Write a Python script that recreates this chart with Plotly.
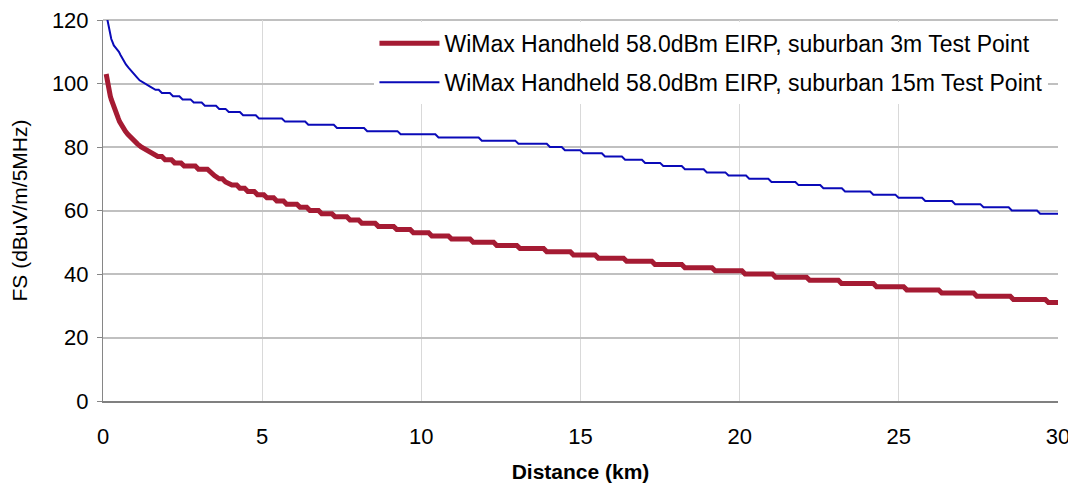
import plotly.graph_objects as go

# Step levels (dBuV/m/5MHz) and the distance (km) where each level starts
red_fs = [103, 102, 101, 100, 99, 98, 97, 96, 95, 94, 93, 92, 91, 90, 89, 88, 87, 86, 85, 84,
          83, 82, 81, 80, 79, 78, 77, 76, 75, 74, 73, 72, 71, 70, 69, 68, 67, 66, 65, 64,
          63, 62, 61, 60, 59, 58, 57, 56, 55, 54, 53, 52, 51, 50, 49, 48, 47, 46, 45, 44,
          43, 42, 41, 40, 39, 38, 37, 36, 35, 34, 33, 32, 31]
red_km = [0.10, 0.115, 0.13, 0.145, 0.16, 0.18, 0.20, 0.23, 0.26, 0.29, 0.32, 0.36, 0.40, 0.44,
          0.48, 0.52, 0.57, 0.63, 0.70, 0.78, 0.87, 0.97, 1.08, 1.20, 1.35, 1.52, 1.72, 1.95,
          2.25, 2.55, 3.00, 3.38, 3.50, 3.65, 3.85, 4.05, 4.30, 4.55, 4.85, 5.15, 5.46, 5.77,
          6.19, 6.50, 6.87, 7.29, 7.76, 8.13, 8.65, 9.23, 9.75, 10.33, 10.95, 11.63, 12.37,
          13.10, 13.94, 14.78, 15.56, 16.45, 17.34, 18.28, 19.23, 20.17, 21.13, 22.20, 23.20,
          24.30, 25.25, 26.35, 27.45, 28.60, 29.70]

blue_fs = [122, 121, 120, 119, 118, 117, 116, 115, 114, 113, 112, 111, 110, 109, 108, 107, 106,
           105, 104, 103, 102, 101, 100, 99, 98, 97, 96, 95, 94, 93, 92, 91, 90, 89, 88, 87, 86,
           85, 84, 83, 82, 81, 80, 79, 78, 77, 76, 75, 74, 73, 72, 71, 70, 69, 68, 67, 66, 65,
           64, 63, 62, 61, 60, 59]
blue_km = [0.10, 0.12, 0.13, 0.15, 0.17, 0.19, 0.21, 0.23, 0.26, 0.30, 0.34, 0.42, 0.50, 0.55,
           0.60, 0.65, 0.72, 0.80, 0.88, 0.97, 1.06, 1.15, 1.30, 1.48, 1.65, 1.85, 2.20, 2.50,
           2.85, 3.20, 3.65, 3.95, 4.40, 4.90, 5.72, 6.45, 7.35, 8.30, 9.35, 10.54, 11.90,
           13.05, 14.04, 14.51, 15.09, 15.77, 16.40, 17.03, 17.60, 18.28, 18.97, 19.65, 20.30,
           21.00, 21.85, 22.63, 23.31, 24.20, 24.99, 25.83, 26.77, 27.66, 28.55, 29.44]

x_end = 30
x_ticks = [0, 5, 10, 15, 20, 25, 30]
y_ticks = [0, 20, 40, 60, 80, 100, 120]

red_name = "WiMax Handheld 58.0dBm EIRP, suburban 3m Test Point"
blue_name = "WiMax Handheld 58.0dBm EIRP, suburban 15m Test Point"

FONT = "Liberation Sans, Arial, sans-serif"
RAMP = 0.1  # km over which a 1 dB step transition is drawn (sample spacing look)


def step_path(starts, levels, end):
    xs, ys = [], []
    bounds = starts[1:] + [end]
    for s, e, v in zip(starts, bounds, levels):
        w = e - s
        xs.append(s)
        ys.append(v)
        if w > 2 * RAMP or e == end:
            xs.append(e - RAMP if e != end else e)
            ys.append(v)
    return xs, ys


rx, ry = step_path(red_km, red_fs, x_end)
bx, by = step_path(blue_km, blue_fs, x_end)

fig = go.Figure()
fig.add_trace(go.Scatter(
    x=rx, y=ry, mode="lines", name=red_name,
    line=dict(color="#A51B33", width=5), legendgroup="a"))
fig.add_trace(go.Scatter(
    x=bx, y=by, mode="lines", name=blue_name,
    line=dict(color="#0A0AB8", width=2), legendgroup="b"))

# top border of the plot area drawn like the horizontal gridlines
fig.add_shape(type="line", xref="paper", yref="paper", x0=0, x1=1, y0=1, y1=1,
              line=dict(color="#C0C0C0", width=2), layer="below")

# page body has an 8px default margin, so margins are offset by 8px
fig.update_layout(
    width=1076, height=493,
    margin=dict(l=95, r=26, t=12, b=100),
    paper_bgcolor="white", plot_bgcolor="white",
    font=dict(family=FONT, size=22, color="#000000"),
    legend=dict(x=0.99, xanchor="right", y=0.995, yanchor="top", bgcolor="white",
                font=dict(size=23), traceorder="grouped", tracegroupgap=6,
                borderwidth=0, itemwidth=60),
    xaxis=dict(range=[0, 30], tickvals=x_ticks, showgrid=True, gridcolor="#D9D9D9",
               gridwidth=1, showline=True, linecolor="#808080", linewidth=2,
               zeroline=False, ticks="", ticklabelstandoff=15, automargin=False,
               ticklabeloverflow="allow",
               title=dict(text="<b>Distance (km)</b>", font=dict(size=21), standoff=16)),
    yaxis=dict(range=[0, 120], tickvals=y_ticks, showgrid=True, gridcolor="#C0C0C0",
               gridwidth=2, showline=True, linecolor="#868686", linewidth=1,
               zeroline=False, ticks="outside", ticklen=5, tickcolor="#868686",
               ticklabelstandoff=4, automargin=False, ticklabeloverflow="allow",
               title=dict(text="FS (dBuV/m/5MHz)", font=dict(size=21), standoff=19)),
)

fig.write_html("out.html")
